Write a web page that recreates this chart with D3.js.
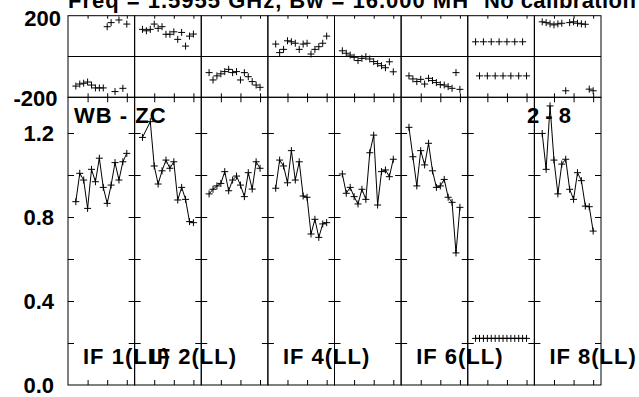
<!DOCTYPE html>
<html><head><meta charset="utf-8">
<script src="https://cdn.jsdelivr.net/npm/d3@7"></script>
<style>
body{margin:0;background:#fff}
text{font-family:"Liberation Sans",Arial,sans-serif;font-weight:bold;font-size:22px;fill:#000}
.wide{letter-spacing:1px}
.semi{letter-spacing:0.4px}
</style>
</head><body>
<svg id="c" width="639" height="397"></svg>
<script>
// ---- data ----
const ifNames = ["IF 1","IF 2","IF 3","IF 4","IF 5","IF 6","IF 7","IF 8"];
const ifLabels = ["IF 1(LL)","IF 2(LL)","","IF 4(LL)","","IF 6(LL)","","IF 8(LL)"];
const chanTicks = [5,10,15];
const ampTicks = [0.2,0.4,0.6,0.8,1.0,1.2];
const ampTickLabels = ["0.0","0.4","0.8","1.2"];
const phaseTickLabels = ["200","-200"];

const amp1 = [[2,0.873],[3,1.008],[4,0.976],[5,0.841],[6,1.027],[7,0.968],[8,1.080],[9,0.941],[10,0.865],[11,0.952],[12,1.059],[13,0.976],[14,1.063],[15,1.103]];
const amp2 = [[2,1.179],[4,1.254],[5,1.043],[6,0.957],[7,1.020],[8,1.071],[9,1.032],[10,1.063],[11,0.881],[12,0.941],[13,0.884],[14,0.778],[15,0.773]];
const amp3 = [[2,0.910],[3,0.932],[4,0.948],[5,0.960],[6,1.016],[7,0.925],[8,0.976],[9,0.995],[10,0.952],[11,0.897],[12,1.011],[13,0.933],[14,1.063],[15,1.032]];
const amp4 = [[2,0.937],[3,1.071],[4,1.043],[5,0.963],[6,1.116],[7,0.976],[8,1.063],[9,0.900],[10,0.894],[11,0.719],[12,0.789],[13,0.703],[14,0.767],[15,0.773]];
const amp5 = [[2,1.005],[3,0.913],[4,0.941],[5,0.897],[6,0.862],[7,0.932],[8,0.884],[9,1.106],[10,1.190],[11,0.857],[12,1.016],[13,1.024],[14,0.992],[15,1.075]];
const amp6 = [[2,1.227],[3,1.087],[4,0.948],[5,1.116],[6,1.048],[7,1.151],[8,1.020],[9,0.941],[10,0.948],[11,0.979],[12,0.894],[13,0.870],[14,0.629],[15,0.846]];
const amp7 = [[2,0.222],[3,0.222],[4,0.222],[5,0.222],[6,0.222],[7,0.222],[8,0.222],[9,0.222],[10,0.222],[11,0.222],[12,0.222],[13,0.222],[14,0.222],[15,0.222]];
const amp8 = [[2,1.198],[3,1.027],[4,1.329],[5,1.071],[6,0.910],[7,1.052],[8,1.075],[9,0.932],[10,0.884],[11,1.011],[12,0.973],[13,0.852],[14,0.849],[15,0.733]];

const ph1 = [[2,-145],[3,-135],[4,-131],[5,-125],[6,-140],[7,-154],[8,-154],[9,-154],[10,146],[11,166],[12,-172],[13,179],[14,-156],[15,159]];
const ph2 = [[2,133],[3,126],[4,133],[5,159],[6,138],[7,146],[8,109],[9,109],[10,121],[11,84],[12,118],[13,51],[14,100],[15,110]];
const ph3 = [[2,-79],[3,-115],[4,-95],[5,-85],[6,-74],[7,-63],[8,-79],[9,-74],[10,-115],[11,-79],[12,-99],[13,-123],[14,-140],[15,-151]];
const ph4 = [[2,61],[3,19],[4,35],[5,77],[6,72],[7,65],[8,35],[9,61],[10,65],[11,12],[12,35],[13,48],[14,65],[15,100]];
const ph5 = [[2,28],[3,16],[4,7],[5,-4],[6,-20],[7,-9],[8,-1],[9,-12],[10,-25],[11,-35],[12,-45],[13,-55],[14,-26],[15,-75]];
const ph6 = [[2,-95],[3,-110],[4,-123],[5,-112],[6,-135],[7,-107],[8,-118],[9,-128],[10,-138],[11,-140],[12,-148],[13,-156],[14,-79],[15,-161]];
const ph7 = [[2,72],[3,-95],[4,72],[5,-95],[6,72],[7,-95],[8,72],[9,-95],[10,72],[11,-95],[12,72],[13,-95],[14,72],[15,-95]];
const ph8 = [[2,170],[3,166],[4,160],[5,155],[6,160],[7,163],[8,-168],[9,166],[10,170],[11,163],[12,160],[13,158],[14,-160],[15,-168]];

const amps = [amp1,amp2,amp3,amp4,amp5,amp6,amp7,amp8];
const phases = [ph1,ph2,ph3,ph4,ph5,ph6,ph7,ph8];

// ---- layout ----
const svg = d3.select("#c");
const X0 = 68, X1 = 601;
const PT = 15.7, PB = 97.3, AB = 385;
const outer = d3.scaleBand().domain(ifNames).range([X0, X1]).padding(0);
const pw = outer.bandwidth();
const xc = d3.scaleLinear().domain([0,17]).range([0,pw]);
const yPh = d3.scaleLinear().domain([-200,200]).range([PB,PT]);
const yAmp = d3.scaleLinear().domain([0,1.37]).range([AB,PB]);
const plus = s => `M${-s},0H${s}M0,${-s}V${s}`;

const noLab = () => "";
ifNames.forEach((name,i) => {
  const g = svg.append("g").attr("transform",`translate(${outer(name)},0)`);
  g.append("rect").attr("x",0).attr("y",PT).attr("width",pw).attr("height",PB-PT)
    .attr("fill","none").attr("stroke","#000").attr("stroke-width",1);
  g.append("rect").attr("x",0).attr("y",PB).attr("width",pw).attr("height",AB-PB)
    .attr("fill","none").attr("stroke","#000").attr("stroke-width",1);
  g.append("line").attr("x1",0).attr("x2",pw).attr("y1",yPh(0)).attr("y2",yPh(0))
    .attr("stroke","#000");
  const ax = [
    [d3.axisTop(xc).tickValues(chanTicks).tickSize(-3), PT, 0],
    [d3.axisBottom(xc).tickValues(chanTicks).tickSize(-4), PB, 0],
    [d3.axisTop(xc).tickValues(chanTicks).tickSize(-5), PB, 0],
    [d3.axisBottom(xc).tickValues(chanTicks).tickSize(-5), AB, 0],
    [d3.axisLeft(yAmp).tickValues(ampTicks).tickSize(-6), 0, 0],
    [d3.axisRight(yAmp).tickValues(ampTicks).tickSize(-6), 0, pw]
  ];
  ax.forEach(([a,ty,tx]) => {
    const ag = g.append("g").attr("transform",`translate(${tx},${ty})`).call(a.tickFormat(noLab));
    ag.select(".domain").remove();
    ag.selectAll("line").attr("stroke","#000");
  });
  g.append("g").selectAll("path").data(phases[i]).join("path")
    .attr("d",plus(3.5)).attr("transform",d=>`translate(${xc(d[0])},${yPh(d[1])})`)
    .attr("stroke","#000").attr("stroke-width",1).attr("fill","none");
  g.append("path").datum(amps[i])
    .attr("d",d3.line().x(d=>xc(d[0])).y(d=>yAmp(d[1])))
    .attr("fill","none").attr("stroke","#000").attr("stroke-width",1);
  g.append("g").selectAll("path").data(amps[i]).join("path")
    .attr("d",plus(3.5)).attr("transform",d=>`translate(${xc(d[0])},${yAmp(d[1])})`)
    .attr("stroke","#000").attr("stroke-width",1).attr("fill","none");
});

ifNames.forEach((name,i) => {
  if (ifLabels[i]) svg.append("text").attr("class","wide").attr("x",outer(name)+15).attr("y",364).text(ifLabels[i]);
});

ampTickLabels.forEach(t => svg.append("text").attr("x",54).attr("y",yAmp(+t)+8)
  .attr("text-anchor","end").text(t));
svg.append("text").attr("x",61).attr("y",yPh(200)+10).attr("text-anchor","end").text(phaseTickLabels[0]);
svg.append("text").attr("x",57.5).attr("y",yPh(-200)+9).attr("text-anchor","end").text(phaseTickLabels[1]);

svg.append("text").attr("class","wide").attr("x",68).attr("y",8).text("Freq = 1.5955 GHz, Bw = 16.000 MH");
svg.append("text").attr("class","semi").attr("x",484).attr("y",8).text("No calibration");
svg.append("text").attr("class","wide").attr("x",74).attr("y",123).text("WB - ZC");
svg.append("text").attr("x",527).attr("y",123).text("2 - 8");
</script>
</body></html>
